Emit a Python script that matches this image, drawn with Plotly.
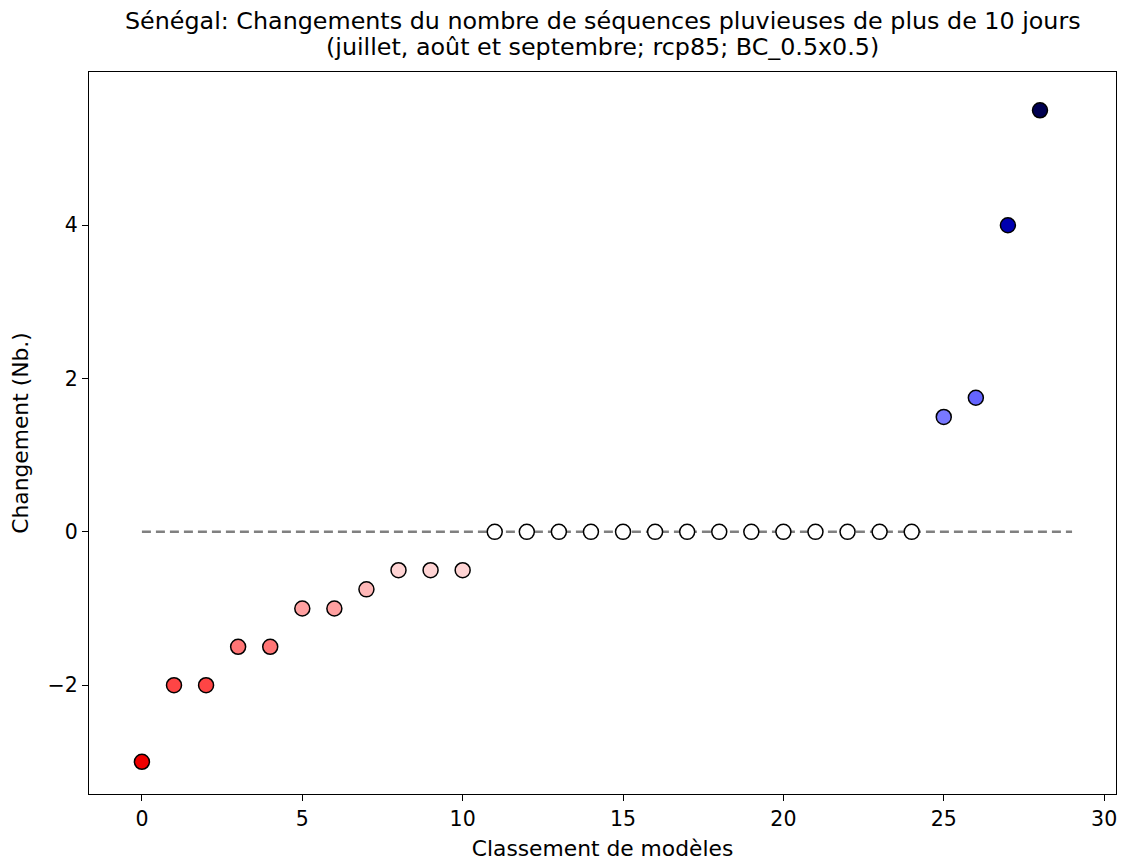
import plotly.graph_objects as go

ranks = list(range(29))
values = [-3, -2, -2, -1.5, -1.5, -1, -1, -0.75, -0.5, -0.5, -0.5,
          0, 0, 0, 0, 0, 0, 0, 0, 0, 0, 0, 0, 0, 0,
          1.5, 1.75, 4, 5.5]
colors = ["#f00000", "#ff4545", "#ff4545", "#ff7575", "#ff7575",
          "#ffa0a0", "#ffa0a0", "#ffb8b8", "#ffd4d4", "#ffd4d4", "#ffd4d4"] + \
         ["#ffffff"] * 14 + ["#7878ff", "#6464ff", "#0000b0", "#000050"]
zero_x = [0, 29]
zero_y = [0, 0]

title_line1 = "Sénégal: Changements du nombre de séquences pluvieuses de plus de 10 jours"
title_line2 = "(juillet, août et septembre; rcp85; BC_0.5x0.5)"

W, H = 1122, 861
plot_l, plot_t, plot_r, plot_b = 89, 72, 1117, 796
plot_h = plot_b - plot_t

fig = go.Figure()
fig.add_trace(go.Scatter(x=zero_x, y=zero_y, mode="lines",
                         line=dict(color="#808080", width=2.5, dash="9px,5px"),
                         showlegend=False, hoverinfo="skip"))
fig.add_trace(go.Scatter(x=ranks, y=values, mode="markers",
                         marker=dict(size=15, color=colors,
                                     line=dict(color="black", width=1.5)),
                         showlegend=False))

FS = 20.5
LFS = 21.8
axis_common = dict(showgrid=False, zeroline=False, showline=True, linecolor="black",
                   linewidth=1.3, mirror=True, ticks="outside", ticklen=6,
                   tickwidth=1.3, tickcolor="black",
                   tickfont=dict(family="DejaVu Sans", size=FS, color="black"))

fig.update_layout(
    width=W, height=H,
    paper_bgcolor="white", plot_bgcolor="white",
    margin=dict(l=plot_l, r=W - plot_r, t=plot_t, b=H - plot_b),
    xaxis=dict(range=[-1.65, 30.37], tickvals=[0, 5, 10, 15, 20, 25, 30],
               title=dict(text="Classement de modèles", standoff=10,
                          font=dict(family="DejaVu Sans", size=LFS, color="black")),
               **axis_common),
    yaxis=dict(range=[-3.42, 6.0], tickvals=[-2, 0, 2, 4],
               ticktext=["−2", "0", "2", "4"],
               title=dict(text="Changement (Nb.)", standoff=12,
                          font=dict(family="DejaVu Sans", size=LFS, color="black")),
               **axis_common),
    annotations=[
        dict(text=title_line1, xref="paper", yref="paper", x=0.5, y=1 + 51 / plot_h,
             xanchor="center", yanchor="middle", showarrow=False,
             font=dict(family="DejaVu Sans", size=23.8, color="black")),
        dict(text=title_line2, xref="paper", yref="paper", x=0.5, y=1 + 25 / plot_h,
             xanchor="center", yanchor="middle", showarrow=False,
             font=dict(family="DejaVu Sans", size=23.8, color="black")),
    ],
)

fig.write_html("out.html", config={"displayModeBar": False},
               post_script="document.body.style.margin='0';document.body.style.overflow='hidden';")
